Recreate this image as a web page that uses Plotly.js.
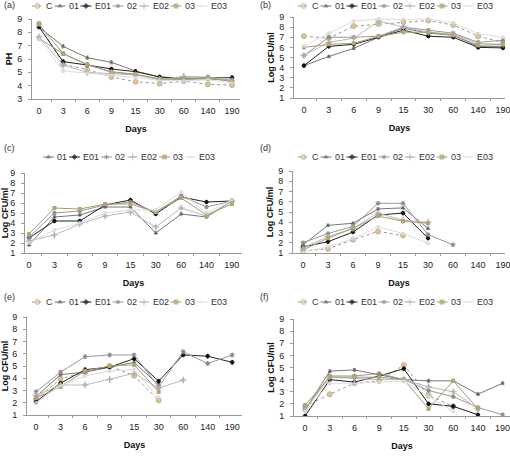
<!DOCTYPE html>
<html><head><meta charset="utf-8">
<script src="https://cdn.plot.ly/plotly-3.0.1.min.js"></script>
<style>html,body{margin:0;padding:0;background:#fff}#chart{width:510px;height:456px}</style>
</head><body><div id="chart"></div>
<script>
// Category tick labels (days)
const days = ['0','3','6','9','15','30','60','140','190'];
const seriesNames = ['C','01','E01','02','E02','03','E03'];

// (a) pH
const aC   = [8.65, 5.6, 5.2, 4.65, 4.3, 4.15, 4.35, 4.1, 4.05];
const a01  = [8.4, 6.95, 6.1, 5.75, 5.1, 4.65, 4.5, 4.5, 4.4];
const aE01 = [8.4, 5.8, 5.55, 5.25, 5.05, 4.65, 4.55, 4.6, 4.6];
const a02  = [7.55, 6.4, 5.55, 5.05, 4.85, 4.5, 4.55, 4.55, 4.4];
const aE02 = [7.65, 5.55, 5.0, 4.9, 4.8, 4.45, 4.7, 4.65, 4.35];
const a03  = [8.6, 6.4, 5.6, 5.0, 4.85, 4.5, 4.45, 4.6, 4.3];
const aE03 = [7.5, 5.1, 4.95, 4.8, 4.6, 4.4, 4.35, 4.45, 4.2];

// (b)
const bC   = [7.1, 6.9, 8.1, 8.3, 8.5, 8.65, 8.2, 7.1, 6.5];
const b01  = [4.2, 5.1, 5.9, 7.0, 7.9, 7.4, 7.2, 6.1, 6.1];
const bE01 = [4.2, 6.1, 6.3, 7.0, 7.7, 7.1, 7.0, 6.0, 5.95];
const b02  = [5.2, 7.0, 7.0, 7.1, 8.0, 7.7, 7.4, 6.5, 6.7];
const bE02 = [5.2, 6.5, 6.9, 8.6, 8.0, 7.5, 7.3, 6.4, 6.3];
const b03  = [6.0, 6.3, 6.4, 7.1, 7.5, 7.5, 7.2, 6.2, 6.3];
const bE03 = [6.1, 7.4, 8.6, 8.8, 8.75, 8.8, 8.4, 7.35, 7.0];

// (c) (no C series)
const c01  = [1.8, 4.6, 4.8, 5.6, 5.6, 3.0, 4.9, 4.6, 6.2];
const cE01 = [2.5, 4.2, 4.2, 5.8, 6.3, 4.9, 6.6, 6.1, 6.2];
const c02  = [2.6, 5.0, 5.2, 5.8, 6.1, 5.1, 6.7, 5.6, 6.2];
const cE02 = [2.2, 2.8, 3.9, 4.7, 5.1, 3.6, 5.5, 4.7, 6.2];
const c03  = [2.9, 5.5, 5.4, 5.9, 5.9, 5.1, 6.5, 4.8, 5.9];
const cE03 = [2.0, 3.3, 4.0, 5.0, 5.3, 5.3, 7.1, 5.0, 6.3];

// (d)
const dC   = [1.2, 1.4, 2.3, 3.1, 2.7, null, null, null, null];
const d01  = [1.8, 3.7, 3.9, 5.3, 5.4, 3.4, null, null, null];
const dE01 = [1.6, 2.1, 3.05, 4.7, 4.9, 2.45, null, null, null];
const d02  = [2.0, 2.9, 3.6, 5.85, 5.85, 2.8, 1.8, null, null];
const dE02 = [1.5, 2.6, 3.4, 4.9, 4.2, 4.0, null, null, null];
const d03  = [1.3, 2.45, 3.4, 4.6, 4.1, 3.9, null, null, null];
const dE03 = [1.1, 1.6, 2.4, 3.55, 2.9, 1.95, null, null, null];

// (e)
const eC   = [2.3, 3.95, 4.5, 5.0, 4.2, 2.2, null, null, null];
const e01  = [2.5, 4.3, 4.5, 4.9, 5.3, 3.45, null, null, null];
const eE01 = [2.1, 3.6, 4.7, 4.9, 5.6, 3.76, 5.9, 5.8, 5.3];
const e02  = [2.9, 4.5, 5.76, 5.9, 5.9, 3.3, 6.17, 5.2, 5.9];
const eE02 = [2.6, 3.45, 3.45, 3.9, 4.4, 3.2, 3.85, null, null];
const e03  = [2.4, 3.3, 4.6, 5.0, 5.1, 2.9, null, null, null];
const eE03 = [2.0, 3.4, 4.2, 4.6, 4.7, 2.4, null, null, null];

// (f)
const fC   = [1.8, 2.8, 3.7, 3.9, 5.2, 2.7, 1.8, null, null];
const f01  = [1.5, 4.7, 4.8, 4.4, 4.0, 3.9, 3.9, 2.8, 3.7];
const fE01 = [1.0, 4.0, 3.8, 4.3, 4.9, 2.0, 1.8, 1.1, null];
const f02  = [1.6, 4.3, 4.3, 4.5, 4.0, 3.1, 2.6, 1.7, 1.1];
const fE02 = [1.5, 4.2, 4.1, 4.0, 4.0, 3.4, 3.0, 1.6, null];
const f03  = [1.9, 4.2, 4.2, 4.2, 4.0, 1.6, 3.9, 1.6, null];
const fE03 = [1.4, 3.7, 3.7, 3.8, 3.9, 2.6, 1.4, null, null];

const FONT = 'Arial, "Liberation Sans", sans-serif';
const W = 510, H = 456;

const styles = {
  'C':   {line:{color:'#999', width:1, dash:'dot'}, marker:{symbol:'circle', size:5, color:'#e9c27e', line:{color:'#aaa', width:0.8}}},
  '01':  {line:{color:'#777', width:1}, marker:{symbol:'triangle-up', size:4, color:'#666'}},
  'E01': {line:{color:'#222', width:1}, marker:{symbol:'diamond', size:4, color:'#111'}},
  '02':  {line:{color:'#999', width:1}, marker:{symbol:'asterisk-open', size:4, color:'#888', line:{color:'#888', width:1}}},
  'E02': {line:{color:'#bbb', width:1}, marker:{symbol:'cross-thin-open', size:5, color:'#aaa', line:{color:'#aaa', width:1}}},
  '03':  {line:{color:'#a99c70', width:1}, marker:{symbol:'square', size:4, color:'#b5a475'}},
  'E03': {line:{color:'#ddd', width:1}, marker:{symbol:'line-ew-open', size:4, color:'#ddd', line:{color:'#ddd', width:1}}}
};

// panel geometry in px
const panels = [
  {label:'(a)', ytitle:'PH', x0:32, x1:240, yt:19, yb:99, xr:[-0.29, 8.33], yr:[3,9], lx:32, ly:6, names:seriesNames,
    data:[aC,a01,aE01,a02,aE02,a03,aE03], lab:[2,5]},
  {label:'(b)', ytitle:'Log CFU/ml', x0:294, x1:505, yt:17, yb:98, xr:[-0.4, 8.08], yr:[1,9], lx:298, ly:6, names:seriesNames,
    data:[bC,b01,bE01,b02,bE02,b03,bE03], lab:[258,5]},
  {label:'(c)', ytitle:'Log CFU/ml', x0:25, x1:242, yt:173, yb:253, xr:[-0.16, 8.4], yr:[1,9], lx:43, ly:157, names:seriesNames.slice(1),
    data:[c01,cE01,c02,cE02,c03,cE03], lab:[2,148]},
  {label:'(d)', ytitle:'Log CFU/ml', x0:293, x1:505, yt:171, yb:253, xr:[-0.4, 8.08], yr:[1,9], lx:298, ly:157, names:seriesNames,
    data:[dC,d01,dE01,d02,dE02,d03,dE03], lab:[258,148]},
  {label:'(e)', ytitle:'Log CFU/ml', x0:27, x1:242, yt:317, yb:415, xr:[-0.37, 8.4], yr:[1,9], lx:32, ly:302, names:seriesNames,
    data:[eC,e01,eE01,e02,eE02,e03,eE03], lab:[2,297]},
  {label:'(f)', ytitle:'Log CFU/ml', x0:294, x1:510, yt:319, yb:416, xr:[-0.45, 8.3], yr:[1,9], lx:298, ly:302, names:seriesNames,
    data:[fC,f01,fE01,f02,fE02,f03,fE03], lab:[258,297]}
];

const traces = [];
const layout = {
  width: W, height: H, margin:{l:0,r:0,t:0,b:0},
  paper_bgcolor:'#fff', plot_bgcolor:'rgba(0,0,0,0)',
  font:{family:FONT, size:9, color:'#222'},
  showlegend:false, annotations:[]
};

// overlay axis in pixel units, used only to place the per-panel legend keys
layout.xaxis7 = {domain:[0,1], range:[0,W], visible:false, fixedrange:true};
layout.yaxis7 = {domain:[0,1], range:[H,0], visible:false, fixedrange:true};

// approximate text widths (Arial 9px) for legend layout
const cw = {'C':6.5,'E':6.0,'0':5.0,'1':5.0,'2':5.0,'3':5.0};
const textW = s => s.split('').reduce((a,c)=>a+(cw[c]||5),0);
const KEY = 11, GAP1 = 2, GAP2 = 3;

panels.forEach((p, i) => {
  const n = i + 1;
  const xa = 'x' + (n === 1 ? '' : n), ya = 'y' + (n === 1 ? '' : n);
  const xk = 'xaxis' + (n === 1 ? '' : n), yk = 'yaxis' + (n === 1 ? '' : n);
  layout[xk] = {
    domain:[p.x0/W, p.x1/W], range:p.xr, type:'category', anchor:ya,
    categoryorder:'array', categoryarray:days,
    showline:true, linecolor:'#999', linewidth:1, showgrid:false, zeroline:false,
    ticks:'outside', tickson:'boundaries', ticklen:2, tickcolor:'#999',
    ticklabelstandoff:3, tickfont:{size:9, color:'#222'},
    title:{text:'<b>Days</b>', font:{size:9, color:'#111'}, standoff:10}
  };
  layout[yk] = {
    domain:[1 - p.yb/H, 1 - p.yt/H], range:p.yr, anchor:xa, dtick:1,
    showline:true, linecolor:'#999', linewidth:1, showgrid:false, zeroline:false,
    ticks:'outside', ticklen:3, tickcolor:'#999', ticklabelstandoff:4, tickfont:{size:9, color:'#222'},
    title:{text:'<b>' + p.ytitle + '</b>', font:{size:9, color:'#111'}, standoff:3}
  };
  layout.annotations.push({text:p.label, x:p.lab[0]/W, y:1 - p.lab[1]/H, xref:'paper', yref:'paper',
    xanchor:'left', yanchor:'middle', showarrow:false, font:{size:9, color:'#333'}});

  let cx = p.lx;
  p.names.forEach((nm, k) => {
    const s = styles[nm];
    traces.push({
      type:'scatter', mode:'lines+markers', x:days, y:p.data[k], name:nm,
      xaxis:xa, yaxis:ya, connectgaps:false, hoverinfo:'skip',
      line:s.line, marker:s.marker,
      error_y:{type:'constant', value:0.12, width:1.5, thickness:0.8, color:s.line.color === '#ddd' ? '#ccc' : s.line.color}
    });
    // legend key: short line with the marker in the middle
    const mk = Object.assign({}, s.marker, {size:[0, s.marker.size, 0]});
    traces.push({
      type:'scatter', mode:'lines+markers', x:[cx, cx + KEY/2, cx + KEY], y:[p.ly, p.ly, p.ly],
      xaxis:'x7', yaxis:'y7', hoverinfo:'skip', line:s.line, marker:mk
    });
    layout.annotations.push({text:nm, x:(cx + KEY + GAP1)/W, y:1 - p.ly/H, xref:'paper', yref:'paper',
      xanchor:'left', yanchor:'middle', showarrow:false, xshift:-1, font:{size:9, color:'#333'}});
    cx += KEY + GAP1 + textW(nm) + GAP2;
  });
});

Plotly.newPlot('chart', traces, layout, {staticPlot:true, displayModeBar:false});
</script></body></html>
